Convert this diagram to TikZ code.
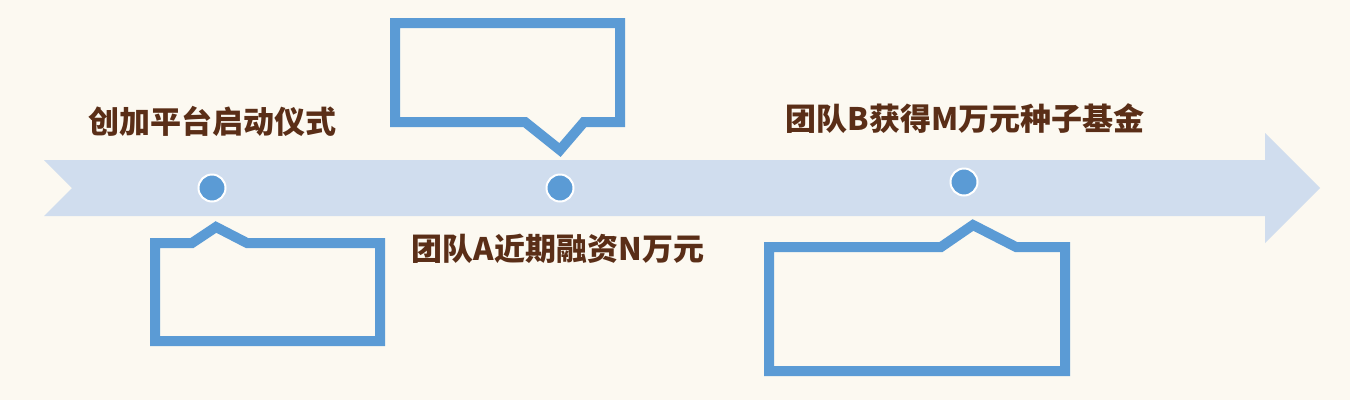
\documentclass[tikz,border=0pt]{standalone}
\usepackage{fontspec}
\newfontfamily\cjk{Noto Sans CJK SC}[BoldFont={Noto Sans CJK SC Black}]
\definecolor{bg}{HTML}{FCF9F1}
\definecolor{band}{HTML}{D0DDEE}
\definecolor{blu}{HTML}{5B9BD5}
\definecolor{brn}{HTML}{5A2E17}
\begin{document}
\begin{tikzpicture}[x=1pt,y=-1pt,
  callout/.style={draw=blu,line width=10pt,line join=miter},
  dot/.style={circle,fill=blu,draw=white,line width=2pt,minimum size=27pt,inner sep=0pt},
  lbl/.style={text=brn,font=\cjk\bfseries\fontsize{31}{33}\selectfont,inner sep=0pt}]
\fill[bg] (0,0) rectangle (1350,400);
\useasboundingbox (0,0) rectangle (1350,400);
% timeline arrow
\fill[band] (44,160) -- (1265,160) -- (1265,133) -- (1320,188) -- (1265,243) -- (1265,216) -- (44,216) -- (72,188) -- cycle;
% callouts
\draw[callout] (155,243) -- (192,243) -- (216,227) -- (247,243) -- (380,243) -- (380,341) -- (155,341) -- cycle;
\draw[callout] (395,23) -- (620,23) -- (620,122) -- (584,122) -- (560,150) -- (525,122) -- (395,122) -- cycle;
\draw[callout] (769,247) -- (941,247) -- (973,225) -- (1016,247) -- (1065,247) -- (1065,371) -- (769,371) -- cycle;
% dots
\node[dot] (d1) at (212,188) {};
\node[dot] (d2) at (560,188) {};
\node[dot] (d3) at (964,182) {};
% labels
\node[lbl] (t1) at (212,121) {创加平台启动仪式};
\node[lbl] (t2) at (558,249) {团队A近期融资N万元};
\node[lbl] (t3) at (965,119) {团队B获得M万元种子基金};
\end{tikzpicture}
\end{document}
